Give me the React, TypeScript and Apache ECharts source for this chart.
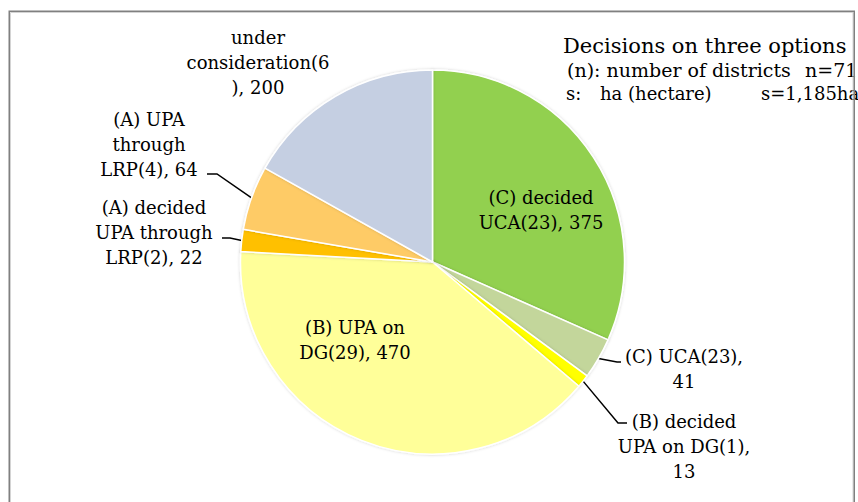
import React, { useEffect, useRef } from "react";
import * as echarts from "echarts";

const categories = [
  "(C) decided UCA",
  "(C) UCA",
  "(B) decided UPA on DG",
  "(B) UPA on DG",
  "(A) decided UPA through LRP",
  "(A) UPA through LRP",
  "under consideration",
];
const districts = [23, 23, 1, 29, 2, 4, 6];
const hectares = [375, 41, 13, 470, 22, 64, 200];
const labelTexts = [
  "(C) decided\nUCA(23), 375",
  "(C) UCA(23),\n41",
  "(B) decided\nUPA on DG(1),\n13",
  "(B) UPA on\nDG(29), 470",
  "(A) decided\nUPA through\nLRP(2), 22",
  "(A) UPA\nthrough\nLRP(4), 64",
  "under\nconsideration(6\n), 200",
];
const colors = ["#92D050", "#C3D69B", "#FFFF00", "#FFFF99", "#FFC000", "#FECB66", "#C5CFE2"];
const insideLabels = [true, false, false, true, false, false, false];
const showLines = [false, true, true, false, true, true, false];

const titleText = "Decisions on three options";
const legendLine2a = "(n): number of districts";
const legendLine2b = "n=71";
const legendLine3a = "s:";
const legendLine3b = "ha (hectare)";
const legendLine3c = "s=1,185ha";

// label placement (centre of each label block, and leader line bend/end)
const placement: { x: number; y: number; bend?: number[]; end?: number[] }[] = [
  { x: 541, y: 210 },
  { x: 684, y: 369, bend: [617, 362], end: [621, 362] },
  { x: 684, y: 446, bend: [618, 423], end: [627, 423] },
  { x: 355, y: 340 },
  { x: 154, y: 232, bend: [230, 238], end: [222, 238] },
  { x: 149, y: 144, bend: [217, 174], end: [207, 174] },
  { x: 258, y: 62 },
];

const FONT = "DejaVu Serif";

export default function App() {
  const ref = useRef<HTMLDivElement>(null);
  useEffect(() => {
    if (!ref.current) return;
    const chart = echarts.init(ref.current, null, { renderer: "svg" });
    const data = hectares.map((v, i) => ({
      name: categories[i],
      value: v,
      districts: districts[i],
      itemStyle: { color: colors[i] },
      label: {
        position: insideLabels[i] ? "inside" : "outside",
        formatter: labelTexts[i],
      },
      labelLine: { show: showLines[i] },
    }));
    const textStyle = { fontFamily: FONT, fontSize: 18, fill: "#000" };
    chart.setOption({
      animation: false,
      backgroundColor: "#ffffff",
      series: [
        {
          type: "pie",
          center: [432.5, 262],
          radius: 192,
          startAngle: 90,
          clockwise: true,
          avoidLabelOverlap: false,
          data,
          itemStyle: {
            borderColor: "#ffffff",
            borderWidth: 1.5,
            shadowBlur: 3,
            shadowColor: "rgba(0,0,0,0.18)",
          },
          label: {
            show: true,
            fontFamily: FONT,
            fontSize: 18,
            lineHeight: 25,
            color: "#000",
          },
          labelLine: {
            show: true,
            length: 10,
            length2: 5,
            lineStyle: { color: "#000", width: 1.5 },
          },
          emphasis: { disabled: true },
          labelLayout: (params: any) => {
            const p = placement[params.dataIndex];
            const out: any = { x: p.x, y: p.y, align: "center", verticalAlign: "middle" };
            if (p.bend && params.labelLinePoints) {
              out.labelLinePoints = [params.labelLinePoints[0], p.bend, p.end];
            }
            return out;
          },
        },
      ],
      graphic: [
        { type: "text", left: 563, top: 35, style: { ...textStyle, text: titleText, fontSize: 21 } },
        { type: "text", left: 567, top: 60, style: { ...textStyle, text: legendLine2a, fontSize: 19 } },
        { type: "text", left: 805, top: 60, style: { ...textStyle, text: legendLine2b, fontSize: 19 } },
        { type: "text", left: 566, top: 84, style: { ...textStyle, text: legendLine3a } },
        { type: "text", left: 600, top: 84, style: { ...textStyle, text: legendLine3b } },
        { type: "text", left: 761, top: 84, style: { ...textStyle, text: legendLine3c } },
        {
          type: "rect",
          z: 100,
          shape: { x: 10.5, y: 12.5, width: 842.5, height: 500 },
          style: { fill: "none", stroke: "#d4d4d4", lineWidth: 1 },
        },
        {
          type: "rect",
          z: 101,
          shape: { x: 9.25, y: 11.25, width: 845, height: 500 },
          style: { fill: "none", stroke: "#808080", lineWidth: 1.5 },
        },
      ],
    });
    return () => chart.dispose();
  }, []);
  return (
    <div
      ref={ref}
      style={{ position: "fixed", left: 0, top: 0, width: 858, height: 502 }}
    />
  );
}
